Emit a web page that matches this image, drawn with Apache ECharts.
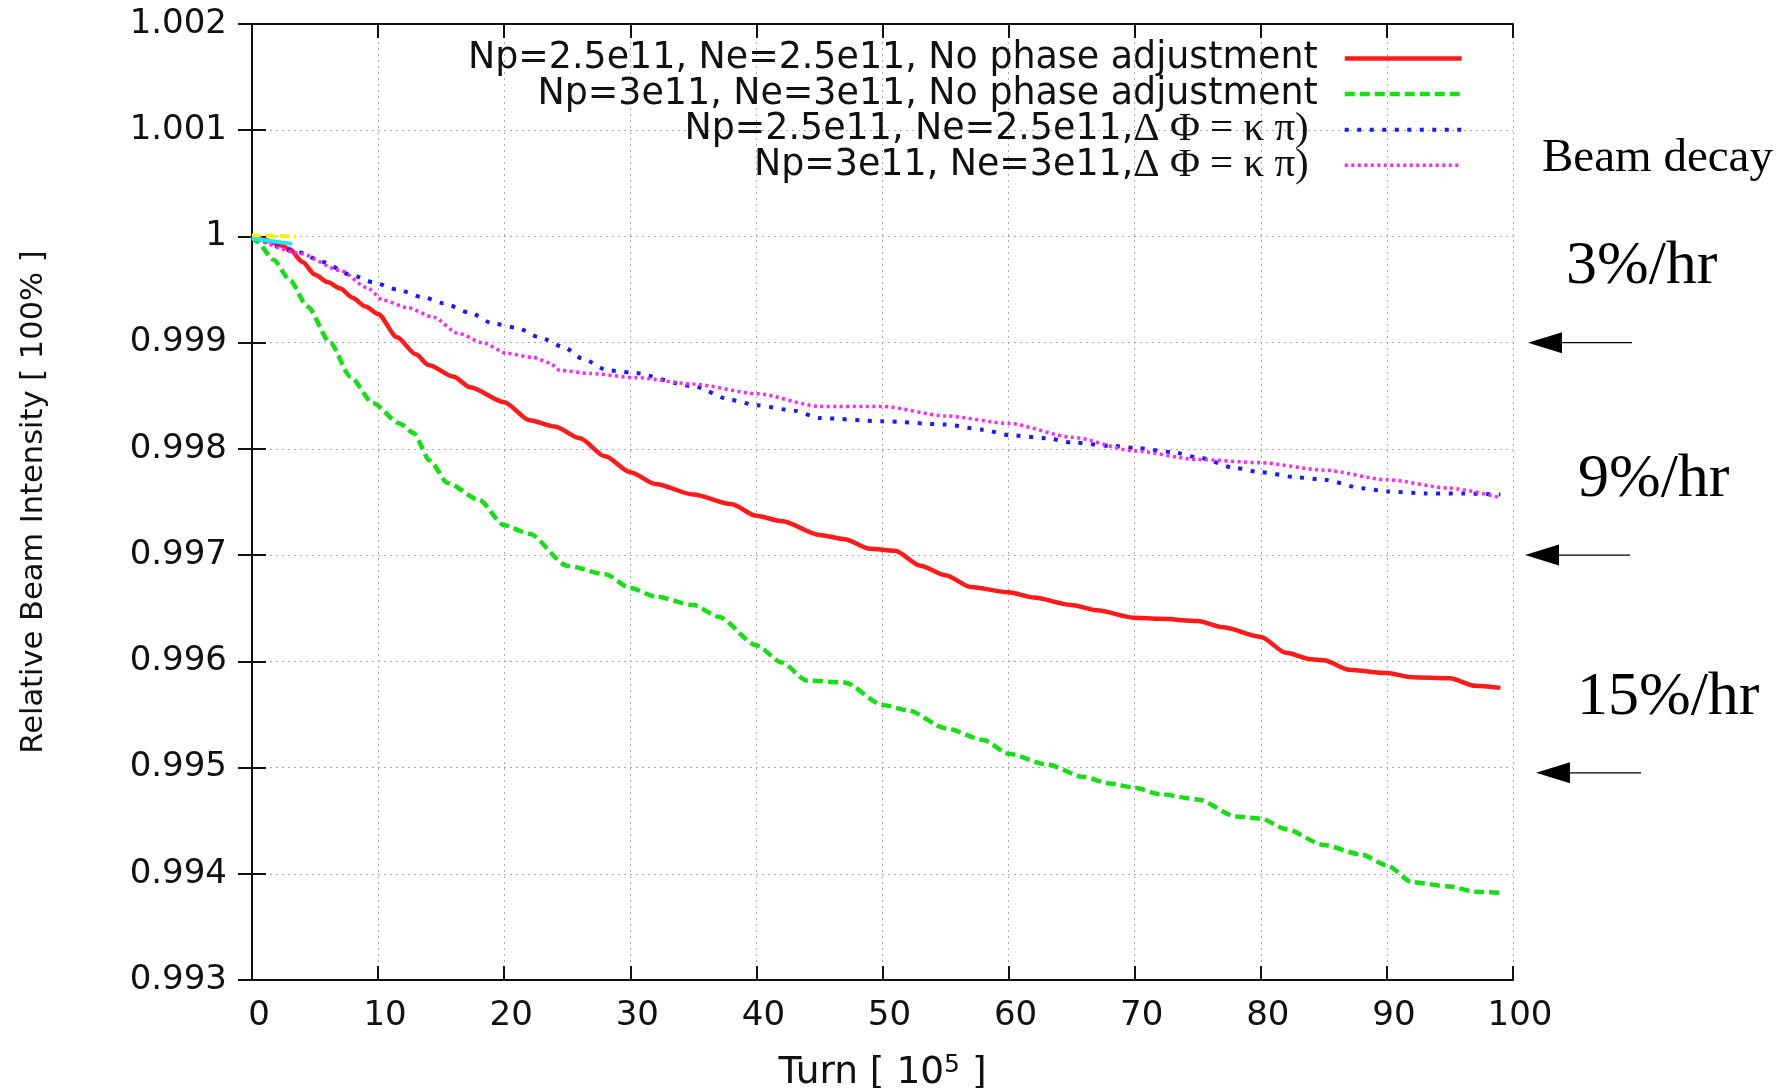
<!DOCTYPE html>
<html>
<head>
<meta charset="utf-8">
<script src="https://cdn.jsdelivr.net/npm/echarts@6/dist/echarts.min.js"></script>
<style>
html, body { margin: 0; padding: 0; background: #ffffff; }
#chart { width: 1791px; height: 1088px; }
</style>
</head>
<body>
<div id="chart"></div>
<script>
// Relative beam intensity vs. turn number (units of 1e5 turns)

const seriesNames = [
  'Np=2.5e11, Ne=2.5e11, No phase adjustment',
  'Np=3e11, Ne=3e11, No phase adjustment',
  'Np=2.5e11, Ne=2.5e11,Δ Φ = κ π)',
  'Np=3e11, Ne=3e11,Δ Φ = κ π)'
];

// Np=2.5e11, no phase adjustment
const redTurns  = [0, 1, 2, 3, 4, 5, 6, 7, 8, 9, 10, 11.5, 13, 14, 16, 17.3, 20, 22, 24, 26, 28, 30, 32, 35, 38, 40, 42, 45, 47, 49, 51, 53, 55, 57, 60, 62, 65, 67, 70, 72, 75, 77, 80, 82, 84, 85, 87, 90, 92, 95, 97, 99];
const redValues = [1.0, 0.99997, 0.99993, 0.99988, 0.99976, 0.99964, 0.99957, 0.99951, 0.99942, 0.99934, 0.99927, 0.99905, 0.99889, 0.99879, 0.99868, 0.99858, 0.99844, 0.99827, 0.99821, 0.9981, 0.99793, 0.99778, 0.99767, 0.99757, 0.99748, 0.99737, 0.99732, 0.99719, 0.99715, 0.99706, 0.99704, 0.9969, 0.99681, 0.9967, 0.99665, 0.9966, 0.99653, 0.99648, 0.99641, 0.9964, 0.99638, 0.99632, 0.99623, 0.99608, 0.99602, 0.99601, 0.99592, 0.99589, 0.99585, 0.99584, 0.99577, 0.99575];

// Np=3e11, no phase adjustment
const greenTurns  = [0, 0.4, 1.7, 3, 4.4, 6.2, 7.8, 9.6, 11.7, 12.8, 14.1, 15.5, 18, 20, 22, 25, 28, 30, 32, 35, 37, 40, 42, 44, 47, 50, 52, 55, 58, 60, 63, 66, 68, 70, 72, 75, 78, 80, 82, 85, 88, 90, 92, 95, 97, 99];
const greenValues = [1.0, 0.99995, 0.99978, 0.99959, 0.99934, 0.999, 0.99868, 0.99843, 0.99824, 0.99815, 0.99789, 0.99768, 0.99752, 0.99728, 0.9972, 0.9969, 0.99682, 0.99669, 0.99661, 0.99653, 0.99642, 0.99615, 0.99599, 0.99582, 0.9958, 0.99559, 0.99554, 0.99537, 0.99526, 0.99513, 0.99503, 0.99491, 0.99485, 0.99481, 0.99475, 0.9947, 0.99454, 0.99452, 0.99442, 0.99427, 0.99418, 0.99408, 0.99392, 0.99388, 0.99383, 0.99382];

// Np=2.5e11, phase difference k*pi
const blueTurns  = [0, 3.8, 5.6, 7.8, 9.6, 11.5, 13.5, 15.2, 17.3, 19.1, 21, 22.8, 24.7, 26.2, 28.2, 30, 35, 38, 40, 43, 45, 50, 55, 58, 60, 63, 65, 68, 70, 73, 75, 78, 80, 83, 85, 88, 90, 93, 96, 99];
const blueValues = [1.0, 0.99985, 0.99976, 0.99964, 0.99957, 0.9995, 0.99943, 0.99937, 0.99928, 0.99918, 0.99914, 0.99905, 0.99896, 0.99885, 0.99874, 0.99872, 0.99859, 0.99846, 0.99841, 0.99836, 0.99829, 0.99826, 0.99823, 0.99818, 0.99813, 0.9981, 0.99806, 0.99803, 0.99801, 0.99797, 0.99792, 0.99782, 0.99778, 0.99773, 0.99771, 0.99763, 0.9976, 0.99758, 0.99758, 0.99757];

// Np=3e11, phase difference k*pi
const magentaTurns  = [0, 3.8, 7, 9.1, 10.4, 12.3, 14.4, 16.3, 18.3, 20.2, 22.3, 23.6, 24.4, 26.8, 30.5, 35, 40, 45, 50, 55, 60, 65, 70, 75, 80, 85, 90, 95, 99];
const magentaValues = [1.0, 0.99984, 0.99968, 0.99952, 0.9994, 0.99933, 0.99924, 0.99909, 0.999, 0.9989, 0.99886, 0.99881, 0.99874, 0.99871, 0.99867, 0.99861, 0.99852, 0.9984, 0.9984, 0.99831, 0.99824, 0.99811, 0.99798, 0.9979, 0.99787, 0.9978, 0.99771, 0.99763, 0.99754];

// short traces near the start
const yellowTurns  = [0, 3.5];
const yellowValues = [1.00001, 1.0];
const cyanTurns  = [0, 3.2];
const cyanValues = [0.99998, 0.99993];

// beam decay reference levels pointed at by the arrows on the right
const decayLabels = ['3%/hr', '9%/hr', '15%/hr'];
const decayLevels = [0.999, 0.997, 0.99495];

const zip = (xs, ys) => xs.map((x, i) => [x, ys[i]]);

const SANS = 'DejaVu Sans';
const SERIF = 'Liberation Serif';

const gridLine = { show: true, lineStyle: { color: '#b3aaaa', type: [2, 4], width: 1 } };
const axisLine = { show: true, lineStyle: { color: '#111', width: 2 } };
const innerTick = { show: true, inside: true, length: 14, lineStyle: { color: '#111', width: 2 } };

function lineSeries(name, xs, ys, color, width, dash) {
  return {
    name: name,
    type: 'line',
    data: zip(xs, ys),
    symbol: 'none',
    showSymbol: false,
    smooth: 0.25,
    smoothMonotone: 'x',
    lineStyle: { color: color, width: width, type: dash, cap: 'butt' },
    itemStyle: { color: color },
    emphasis: { disabled: true }
  };
}

const chart = echarts.init(document.getElementById('chart'), null, { renderer: 'canvas' });

chart.setOption({
  animation: false,
  backgroundColor: '#ffffff',
  grid: { left: 252, right: 278, top: 24, bottom: 108, containLabel: false, outerBoundsMode: 'none' },
  legend: {
    data: seriesNames,
    orient: 'vertical',
    align: 'right',
    right: 327,
    top: 35.5,
    padding: 0,
    itemGap: -10.4,
    itemWidth: 117,
    itemHeight: 30,
    selectedMode: false,
    // line samples only, no marker in the middle
    itemStyle: { opacity: 0, borderWidth: 0 },
    lineStyle: { width: 'inherit' },
    formatter: function (name) {
      const i = name.indexOf('Δ');
      if (i < 0) return '{s|' + name + '}';
      return '{s|' + name.slice(0, i) + '}{g|' + name.slice(i) + '}';
    },
    textStyle: {
      padding: [0, 22, 0, 0],
      lineHeight: 46,
      rich: {
        s: { fontFamily: SANS, fontSize: 36.4, color: '#111', lineHeight: 46 },
        g: { fontFamily: SERIF, fontSize: 41, color: '#111', lineHeight: 46, padding: [0, 9, 0, 0] }
      }
    }
  },
  xAxis: [
    {
      type: 'value', position: 'bottom', min: 0, max: 100, interval: 10,
      name: '{t|Turn [ 10}{s|5}{t| ]}',
      nameLocation: 'middle', nameGap: 73,
      nameTextStyle: {
        rich: {
          t: { fontFamily: SANS, fontSize: 37.5, color: '#111', lineHeight: 40 },
          s: { fontFamily: SANS, fontSize: 25, color: '#111', verticalAlign: 'top', lineHeight: 40 }
        }
      },
      axisLine: axisLine, axisTick: innerTick, splitLine: gridLine,
      axisLabel: { fontFamily: SANS, fontSize: 34, color: '#111', margin: 19, padding: [0, 0, 0, 14] }
    },
    {
      type: 'value', position: 'top', min: 0, max: 100, interval: 10,
      axisLine: axisLine, axisTick: innerTick, splitLine: { show: false }, axisLabel: { show: false }
    }
  ],
  yAxis: [
    {
      type: 'value', position: 'left', min: 0.993, max: 1.002, interval: 0.001,
      name: 'Relative Beam Intensity [ 100% ]',
      nameLocation: 'middle', nameGap: 202, nameRotate: 90,
      nameTextStyle: { fontFamily: SANS, fontSize: 30.5, color: '#111' },
      axisLine: axisLine, axisTick: innerTick, splitLine: gridLine,
      axisLabel: {
        fontFamily: SANS, fontSize: 34, color: '#111', margin: 25,
        formatter: v => String(+v.toFixed(3))
      }
    },
    {
      type: 'value', position: 'right', min: 0.993, max: 1.002, interval: 0.001,
      axisLine: axisLine, axisTick: innerTick, splitLine: { show: false }, axisLabel: { show: false }
    }
  ],
  series: [
    lineSeries(seriesNames[0], redTurns, redValues, '#ff1a1a', 4.5, 'solid'),
    lineSeries(seriesNames[1], greenTurns, greenValues, '#14e014', 4.5, [10, 5]),
    lineSeries(seriesNames[2], blueTurns, blueValues, '#1a1aff', 4, [4, 8.5]),
    lineSeries(seriesNames[3], magentaTurns, magentaValues, '#ff22ff', 3.5, [3, 3.5]),
    lineSeries('start-a', yellowTurns, yellowValues, '#ffee00', 4, [9, 5]),
    lineSeries('start-b', cyanTurns, cyanValues, '#22e6ee', 4, 'solid')
  ]
});

// Annotations on the right: decay rates with arrows pointing at reference levels
const arrowTips = [1528, 1525, 1536];
const arrowTails = [1632, 1630, 1641];
const labelLeft = [1566, 1578, 1577];
const labelMiddle = [267, 480, 698];

const graphics = [{
  type: 'text', x: 1542, y: 158.5, silent: true,
  style: { text: 'Beam decay', fontFamily: SERIF, fontSize: 47, fill: '#000', verticalAlign: 'middle' }
}];
decayLevels.forEach((lvl, i) => {
  const y = chart.convertToPixel({ yAxisIndex: 0 }, lvl);
  const tip = arrowTips[i];
  graphics.push({
    type: 'line', silent: true,
    shape: { x1: tip + 30, y1: y, x2: arrowTails[i], y2: y },
    style: { stroke: '#000', lineWidth: 1.2 }
  });
  graphics.push({
    type: 'polygon', silent: true,
    shape: { points: [[tip, y], [tip + 34, y - 10.5], [tip + 34, y + 10.5]] },
    style: { fill: '#000' }
  });
  graphics.push({
    type: 'text', silent: true, x: labelLeft[i], y: labelMiddle[i],
    style: { text: decayLabels[i], fontFamily: SERIF, fontSize: 62, fill: '#000', verticalAlign: 'middle' }
  });
});
chart.setOption({ graphic: graphics });
</script>
</body>
</html>
